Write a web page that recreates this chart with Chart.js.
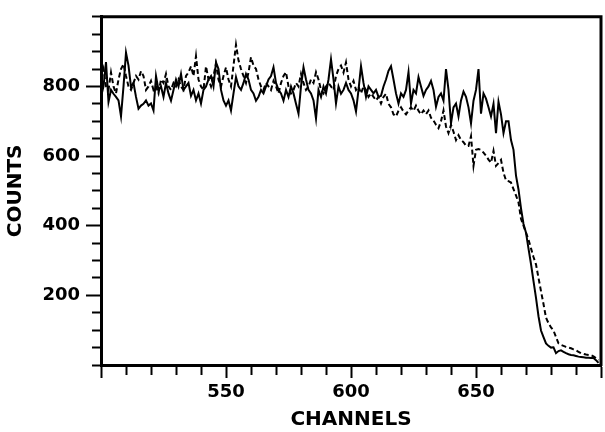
<!DOCTYPE html>
<html>
<head>
<meta charset="utf-8">
<script src="https://cdn.jsdelivr.net/npm/chart.js@4/dist/chart.umd.min.js"></script>
<style>
  html, body { margin: 0; padding: 0; background: #fff; }
</style>
</head>
<body>
<canvas id="graficoContagens" width="605" height="432"></canvas>
<script>
  // Canais (eixo x)
  const canais = Array.from({ length: 200 }, (_, i) => 500 + i);

  // Contagens - curva continua (canal 500 a 699)
  const contagensSolida = [
    770, 800, 870, 756, 790, 779, 770, 760, 714, 800,
    897, 860, 799, 810, 770, 736, 745, 750, 760, 745,
    751, 731, 830, 790, 800, 770, 810, 780, 759, 790,
    820, 800, 836, 790, 800, 810, 773, 790, 760, 780,
    751, 790, 800, 820, 830, 800, 869, 850, 790, 760,
    745, 760, 731, 780, 827, 800, 790, 810, 836, 820,
    790, 780, 759, 770, 790, 780, 800, 820, 830, 855,
    810, 790, 780, 759, 790, 770, 800, 780, 750, 722,
    800, 855, 820, 790, 780, 760, 708, 790, 770, 800,
    780, 820, 878, 820, 751, 800, 779, 790, 810, 790,
    780, 760, 728, 790, 858, 810, 770, 800, 790, 780,
    790, 770, 773, 800, 820, 845, 858, 820, 780, 751,
    780, 770, 790, 841, 751, 790, 780, 827, 800, 773,
    790, 800, 816, 790, 742, 770, 780, 759, 850, 790,
    694, 740, 751, 714, 760, 785, 770, 740, 694, 759,
    790, 850, 722, 780, 765, 740, 714, 750, 666, 756,
    720, 666, 700, 700, 646, 618, 544, 504, 450, 405,
    380, 334, 290, 241, 193, 140, 99, 80, 62, 55,
    50, 51, 34, 40, 42, 38, 34, 31, 29, 28,
    26, 24, 23, 22, 21, 21, 20, 20, 14, 6
  ];

  // Contagens - curva tracejada
  const contagensTracejada = [
    820, 850, 800, 790, 840, 800, 780, 820, 850, 864,
    830, 800, 790, 810, 830, 820, 844, 830, 790, 800,
    816, 790, 800, 780, 820, 810, 836, 800, 790, 810,
    800, 820, 800, 790, 830, 840, 858, 830, 887, 820,
    800, 790, 858, 820, 800, 830, 865, 820, 800, 830,
    855, 820, 800, 860, 920, 875, 850, 830, 810, 840,
    884, 860, 850, 820, 800, 790, 810, 800, 790, 816,
    800, 780, 810, 830, 841, 800, 780, 790, 810, 800,
    836, 810, 790, 800, 820, 810, 841, 820, 790, 780,
    800, 810, 800, 790, 830, 850, 860, 840, 869, 820,
    800, 816, 790, 800, 780, 800, 790, 770, 780, 770,
    760, 770, 751, 770, 779, 750, 740, 720, 714, 730,
    740, 728, 720, 731, 740, 730, 745, 730, 720, 731,
    720, 731, 710, 702, 690, 680, 700, 731, 685, 666,
    690, 670, 646, 660, 646, 640, 630, 629, 657, 572,
    618, 620, 618, 610, 601, 590, 581, 615, 572, 580,
    589, 552, 530, 528, 524, 505, 487, 467, 420, 400,
    380, 360, 335, 310, 289, 250, 212, 175, 136, 120,
    108, 99, 80, 62, 58, 55, 52, 50, 48, 45,
    42, 38, 34, 32, 30, 29, 28, 25, 20, 14
  ];

  // Rotulos que aparecem nos eixos
  const rotulosX = [550, 600, 650];
  const rotulosY = [200, 400, 600, 800];

  // Moldura de cima e da direita
  const moldura = {
    id: 'moldura',
    afterDraw(chart) {
      const { ctx, chartArea: a } = chart;
      ctx.save();
      ctx.strokeStyle = '#000';
      ctx.lineWidth = 3;
      ctx.beginPath();
      ctx.moveTo(a.left - 1, a.top);
      ctx.lineTo(a.right, a.top);
      ctx.lineTo(a.right, a.bottom + 1);
      ctx.stroke();
      ctx.restore();
    }
  };

  const fonteTick = { family: 'DejaVu Sans', size: 18, weight: 'bold' };
  const fonteTitulo = { family: 'DejaVu Sans', size: 20, weight: 'bold' };

  const ctx = document.getElementById('graficoContagens').getContext('2d');
  new Chart(ctx, {
    type: 'line',
    data: {
      labels: canais,
      datasets: [{
        label: 'Continua',
        data: contagensSolida,
        borderColor: '#000',
        borderWidth: 2,
        pointRadius: 0,
        tension: 0
      }, {
        label: 'Tracejada',
        data: contagensTracejada,
        borderColor: '#000',
        borderWidth: 2,
        borderDash: [5, 3],
        pointRadius: 0,
        tension: 0
      }]
    },
    options: {
      responsive: false,
      animation: false,
      layout: { padding: { top: 12, right: 4, left: 0, bottom: 0 } },
      plugins: {
        legend: { display: false },
        tooltip: { enabled: false }
      },
      scales: {
        x: {
          type: 'linear',
          min: 500,
          max: 700,
          afterFit: s => { s.height = 67; },
          border: { color: '#000', width: 3 },
          grid: {
            drawOnChartArea: false,
            tickLength: 13,
            tickWidth: 2,
            tickColor: '#000',
            // ticks menores a cada 10, maiores a cada 50
            tickBorderDash: c => (c.tick && c.tick.value % 50 === 0) ? [] : [8, 20]
          },
          ticks: {
            stepSize: 10,
            autoSkip: false,
            maxRotation: 0,
            padding: 4,
            color: '#000',
            font: fonteTick,
            callback: v => rotulosX.includes(v) ? String(v) : ''
          },
          title: {
            display: true,
            text: 'CHANNELS',
            color: '#000',
            font: fonteTitulo,
            padding: { top: 0, bottom: 0 }
          }
        },
        y: {
          min: 0,
          max: 1000,
          afterFit: s => { s.width = 101; },
          border: { color: '#000', width: 3 },
          grid: {
            drawOnChartArea: false,
            tickLength: 15,
            tickWidth: 2,
            tickColor: '#000',
            tickBorderDash: c => (c.tick && rotulosY.includes(c.tick.value)) ? [] : [8, 6],
            tickBorderDashOffset: c => (c.tick && rotulosY.includes(c.tick.value)) ? 0 : 8
          },
          ticks: {
            stepSize: 50,
            autoSkip: false,
            padding: 6,
            color: '#000',
            font: fonteTick,
            callback: v => rotulosY.includes(v) ? String(v) : ''
          },
          title: {
            display: true,
            text: 'COUNTS',
            color: '#000',
            font: fonteTitulo,
            padding: { top: 4, bottom: 0 }
          }
        }
      }
    },
    plugins: [moldura]
  });
</script>
</body>
</html>
